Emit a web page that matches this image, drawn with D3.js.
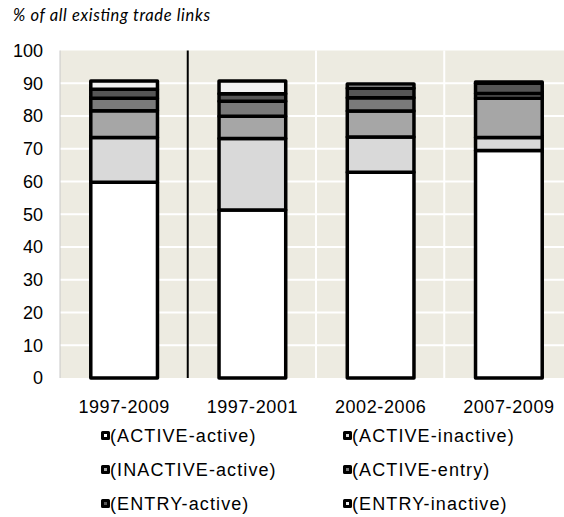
<!DOCTYPE html>
<html><head><meta charset="utf-8">
<script src="https://cdn.jsdelivr.net/npm/d3@7"></script>
<style>body{margin:0;background:#fff}svg{display:block}</style>
</head><body>
<svg id="c" width="564" height="517"></svg>
<script>
const categories = ["1997-2009", "1997-2001", "2002-2006", "2007-2009"];
const seriesNames = ["(ACTIVE-active)", "(ACTIVE-inactive)", "(INACTIVE-active)", "(ACTIVE-entry)", "(ENTRY-active)", "(ENTRY-inactive)"];
const activeActive   = [59.8, 51.3, 62.8, 69.5];
const activeInactive = [13.6, 21.8, 10.8, 3.9];
const inactiveActive = [8.2, 6.8, 7.9, 12.0];
const activeEntry    = [3.8, 4.6, 4.1, 1.5];
const entryActive    = [2.8, 2.3, 2.9, 3.1];
const entryInactive  = [2.5, 3.9, 1.3, 0.4];
const yTicks = [0, 10, 20, 30, 40, 50, 60, 70, 80, 90, 100];
const colors = ["#ffffff", "#d9d9d9", "#a6a6a6", "#7a7a7a", "#565656", "#f2f2f2"];

const seriesValues = [activeActive, activeInactive, inactiveActive, activeEntry, entryActive, entryInactive];
const rows = categories.map((c, i) => {
  const r = {cat: c};
  seriesNames.forEach((s, j) => r[s] = seriesValues[j][i]);
  return r;
});
const stacked = d3.stack().keys(seriesNames)(rows);

const svg = d3.select("#c");
const L = 60, R = 573, T = 50.5, B = 378;
const x = d3.scaleBand().domain(categories).range([L, R]).paddingInner(0.48).paddingOuter(0.24);
const y = d3.scaleLinear().domain([0, 100]).range([B, T]);
const color = d3.scaleOrdinal().domain(seriesNames).range(colors);

// plot background
svg.append("rect").attr("x", L).attr("y", T).attr("width", R - L).attr("height", B - T)
  .attr("fill", "#edebe1");
// horizontal grid
svg.append("g").selectAll("line").data(yTicks.filter(d => d > 0 && d < 100)).join("line")
  .attr("x1", L).attr("x2", R).attr("y1", d => y(d)).attr("y2", d => y(d))
  .attr("stroke", "#ffffff").attr("stroke-width", 2);
// vertical grid at category boundaries
const step = x.step();
const bounds = categories.slice(1).map(c => x(c) - x.paddingInner() * step / 2 - 0.5);
svg.append("g").selectAll("line").data(bounds).join("line")
  .attr("x1", d => d).attr("x2", d => d).attr("y1", T).attr("y2", B)
  .attr("stroke", (d, i) => i === 0 ? "#000" : "#fff").attr("stroke-width", 2);
// left edge
svg.append("line").attr("x1", L).attr("x2", L).attr("y1", T).attr("y2", B)
  .attr("stroke", "#c8c8c8").attr("stroke-width", 1);

// bars
svg.append("g").selectAll("g").data(stacked).join("g")
  .attr("fill", d => color(d.key))
  .selectAll("rect").data(d => d).join("rect")
  .attr("x", d => x(d.data.cat))
  .attr("width", x.bandwidth())
  .attr("y", d => y(d[1]))
  .attr("height", d => y(d[0]) - y(d[1]))
  .attr("stroke", "#000").attr("stroke-width", 3.5).attr("stroke-linejoin", "round");

// y axis labels
const font = "'Liberation Sans', Arial, sans-serif";
svg.append("g").selectAll("text").data(yTicks).join("text")
  .attr("x", 43).attr("y", d => y(d)).attr("dy", "0.36em")
  .attr("text-anchor", "end").attr("font-family", font).attr("font-size", 18)
  .attr("fill", "#000").text(d => d);

// x axis labels
svg.append("g").selectAll("text").data(categories).join("text")
  .attr("x", d => x(d) + x.bandwidth() / 2).attr("y", 407).attr("dy", "0.36em")
  .attr("text-anchor", "middle").attr("font-family", font).attr("font-size", 18)
  .attr("letter-spacing", 0.6)
  .attr("fill", "#000").text(d => d);

// title
svg.append("text").attr("x", 13).attr("y", 21)
  .attr("font-family", "Lato, 'Open Sans', sans-serif").attr("font-style", "italic")
  .attr("font-size", 16.5).attr("textLength", 197).attr("lengthAdjust", "spacing")
  .attr("fill", "#000").text("% of all existing trade links");

// legend
const legX = [101, 343], legY = [436, 470, 504];
const leg = svg.append("g").selectAll("g").data(seriesNames).join("g")
  .attr("transform", (d, i) => `translate(${legX[i % 2]},${legY[Math.floor(i / 2)]})`);
leg.append("rect").attr("x", 1.5).attr("y", -3.5).attr("width", 6).attr("height", 6)
  .attr("fill", d => color(d)).attr("stroke", "#000").attr("stroke-width", 3)
  .attr("stroke-linejoin", "round");
leg.append("text").attr("x", 9).attr("y", 0).attr("dy", "0.36em")
  .attr("font-family", font).attr("font-size", 18).attr("letter-spacing", 1.1)
  .attr("fill", "#000").text(d => d);
</script>
</body></html>
